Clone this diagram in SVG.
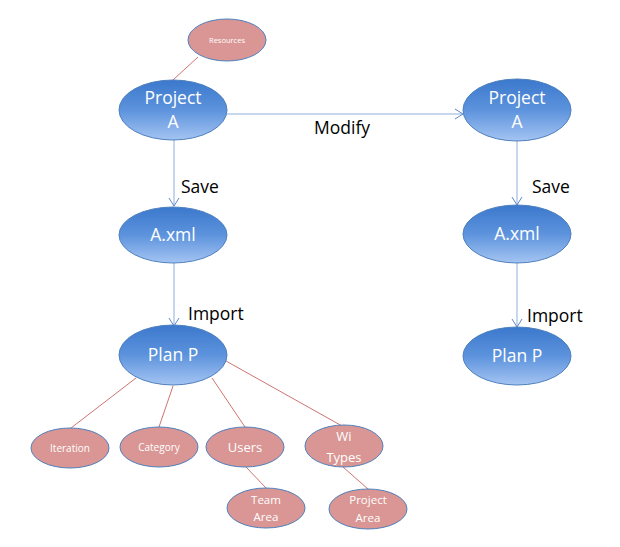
<svg xmlns="http://www.w3.org/2000/svg" width="620" height="547" viewBox="0 0 620 547">
<defs>
<linearGradient id="blue" x1="0" y1="0" x2="0" y2="1">
<stop offset="0" stop-color="#3b78cc"/>
<stop offset="0.5" stop-color="#5d93dd"/>
<stop offset="1" stop-color="#a4c4f2"/>
</linearGradient>
<marker id="arr" markerWidth="12" markerHeight="12" refX="10" refY="6" orient="auto" markerUnits="userSpaceOnUse">
<path d="M2,1 L10,6 L2,11" fill="none" stroke="#5b87c7" stroke-width="1"/>
</marker>
<style>
.b{fill:url(#blue);stroke:#4f81bd;stroke-width:1}
.p{fill:#d99694;stroke:#4f81bd;stroke-width:1}
.bt{fill:#ffffff;font-family:"Open Sans","Noto Sans",sans-serif;font-size:17.5px;text-anchor:middle}
.pt{fill:#ffffff;font-family:"Open Sans","Noto Sans",sans-serif;text-anchor:middle}
.lbl{fill:#000000;font-family:"Open Sans","Noto Sans",sans-serif;font-size:17.5px}
.c{stroke:#8fb0dc;stroke-width:1;fill:none}
.r{stroke:#c0504d;stroke-width:0.8;fill:none}
</style>
</defs>
<rect width="620" height="547" fill="#ffffff"/>
<g id="connectors">
<line class="r" x1="198" y1="57" x2="173" y2="80"/>
<line class="c" x1="227" y1="114" x2="463" y2="114" marker-end="url(#arr)"/>
<line class="c" x1="174" y1="140" x2="174" y2="206" marker-end="url(#arr)"/>
<line class="c" x1="174" y1="263" x2="174" y2="326" marker-end="url(#arr)"/>
<line class="c" x1="517" y1="141" x2="517" y2="205" marker-end="url(#arr)"/>
<line class="c" x1="517" y1="263" x2="517" y2="327" marker-end="url(#arr)"/>
<line class="r" x1="136" y1="378" x2="71" y2="428"/>
<line class="r" x1="173" y1="386" x2="159" y2="427"/>
<line class="r" x1="212" y1="378" x2="245" y2="427"/>
<line class="r" x1="226" y1="361" x2="342" y2="426"/>
<line class="r" x1="246" y1="467" x2="266" y2="488"/>
<line class="r" x1="343" y1="467" x2="368" y2="489"/>
</g>
<g id="resources"><ellipse class="p" cx="227" cy="40" rx="39" ry="21"/><text class="pt" x="227" y="43" font-size="7.5">Resources</text></g>
<g id="projectA1"><ellipse class="b" cx="173" cy="110" rx="54" ry="30"/><text class="bt" x="173" y="104">Project</text><text class="bt" x="173" y="128">A</text></g>
<g id="axml1"><ellipse class="b" cx="173" cy="235" rx="54" ry="28"/><text class="bt" x="173" y="241">A.xml</text></g>
<g id="planP1"><ellipse class="b" cx="173" cy="355" rx="54" ry="30"/><text class="bt" x="173" y="361">Plan P</text></g>
<g id="projectA2"><ellipse class="b" cx="517" cy="110" rx="54" ry="31"/><text class="bt" x="517" y="104">Project</text><text class="bt" x="517" y="128">A</text></g>
<g id="axml2"><ellipse class="b" cx="517" cy="234" rx="54" ry="29"/><text class="bt" x="517" y="240">A.xml</text></g>
<g id="planP2"><ellipse class="b" cx="517" cy="356" rx="54" ry="29"/><text class="bt" x="517" y="362">Plan P</text></g>
<g id="labels">
<text class="lbl" x="314" y="134">Modify</text>
<text class="lbl" x="181" y="193">Save</text>
<text class="lbl" x="188" y="320">Import</text>
<text class="lbl" x="532" y="193">Save</text>
<text class="lbl" x="527" y="322">Import</text>
</g>
<g id="iteration"><ellipse class="p" cx="70" cy="448" rx="39" ry="20"/><text class="pt" x="70" y="451.5" font-size="10">Iteration</text></g>
<g id="category"><ellipse class="p" cx="159" cy="447" rx="39" ry="20"/><text class="pt" x="159" y="450.5" font-size="10">Category</text></g>
<g id="users"><ellipse class="p" cx="245" cy="447" rx="39" ry="20"/><text class="pt" x="245" y="451.5" font-size="13">Users</text></g>
<g id="wiTypes"><ellipse class="p" cx="344" cy="446" rx="39" ry="21"/><text class="pt" x="344" y="440.5" font-size="13">Wi</text><text class="pt" x="344" y="461.5" font-size="13">Types</text></g>
<g id="teamArea"><ellipse class="p" cx="266" cy="508" rx="39" ry="20"/><text class="pt" x="266" y="504" font-size="11.5">Team</text><text class="pt" x="266" y="520.5" font-size="11.5">Area</text></g>
<g id="projectArea"><ellipse class="p" cx="368" cy="509" rx="39" ry="20"/><text class="pt" x="368" y="504" font-size="11.5">Project</text><text class="pt" x="368" y="521.5" font-size="11.5">Area</text></g>
</svg>
